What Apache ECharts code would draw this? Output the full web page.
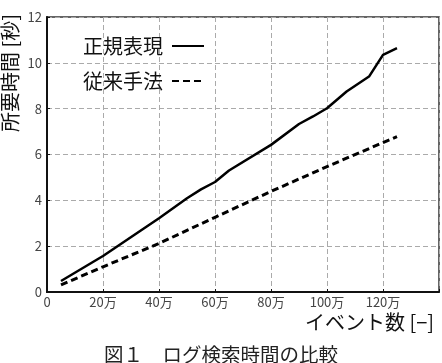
<!DOCTYPE html>
<html>
<head>
<meta charset="utf-8">
<script src="https://cdn.jsdelivr.net/npm/echarts@6/dist/echarts.min.js"></script>
<style>
html,body{margin:0;padding:0;background:#fff;}
#c{width:442px;height:363px;}
</style>
</head>
<body>
<div id="c"></div>
<script>
// X values in units of 万 (10,000 events)
const regexEvents = [5, 20, 40, 50, 55, 60, 65, 80, 90, 95, 100, 107, 115, 120, 125];
const regexTimes  = [0.48, 1.57, 3.22, 4.09, 4.48, 4.8, 5.3, 6.42, 7.33, 7.66, 8.02, 8.75, 9.4, 10.35, 10.64];
const legacyEvents = [5, 20, 40, 60, 80, 100, 120, 125];
const legacyTimes  = [0.31, 1.1, 2.12, 3.26, 4.39, 5.47, 6.52, 6.78];
const seriesNames = ['正規表現', '従来手法'];
const xAxisName = 'イベント数 [−]';
const yAxisName = '所要時間 [秒]';
const caption = '図１　ログ検索時間の比較';

const FONT = '"Noto Sans CJK JP", "Noto Sans", sans-serif';
const chart = echarts.init(document.getElementById('c'), null, {renderer: 'canvas'});
const zip = (xs, ys) => xs.map((x, i) => [x, ys[i]]);

chart.setOption({
  animation: false,
  backgroundColor: '#fff',
  textStyle: {fontFamily: FONT},
  title: {
    text: caption,
    left: 'center',
    top: 340,
    textStyle: {fontSize: 19.5, fontWeight: 'normal', color: '#222', fontFamily: FONT}
  },
  grid: {
    left: 46, right: 3, top: 17, bottom: 71,
    show: true, borderColor: '#333', borderWidth: 1.5
  },
  legend: {
    orient: 'vertical',
    left: 78, top: 31,
    align: 'right',
    itemWidth: 32, itemHeight: 14, itemGap: 15,
    itemStyle: {opacity: 0},
    textStyle: {fontSize: 20, color: '#111', fontFamily: FONT, padding: [0, 4, 0, 0]},
    data: seriesNames
  },
  xAxis: {
    type: 'value', min: 0, max: 140, interval: 20,
    name: xAxisName,
    nameLocation: 'end',
    nameGap: -5,
    nameTextStyle: {fontSize: 20, color: '#111', align: 'right', verticalAlign: 'top', padding: [20, 0, 0, 0], fontFamily: FONT},
    axisLine: {show: true, lineStyle: {color: '#111', width: 2}},
    axisTick: {show: true, inside: true, length: 3, lineStyle: {color: '#111'}},
    axisLabel: {
      fontSize: 13, color: '#444', margin: 4, fontFamily: FONT,
      formatter: v => v === 0 ? '0' : (v >= 140 ? '' : v + '万')
    },
    splitLine: {show: true, lineStyle: {color: '#aaa', type: [5, 3], width: 1}}
  },
  yAxis: {
    type: 'value', min: 0, max: 12, interval: 2,
    name: yAxisName,
    nameLocation: 'end',
    nameRotate: 90,
    nameGap: 3,
    nameTextStyle: {fontSize: 20, color: '#111', align: 'right', verticalAlign: 'bottom', padding: [0, 0, 27, 0], fontFamily: FONT},
    axisLine: {show: true, lineStyle: {color: '#111', width: 2}},
    axisTick: {show: true, inside: true, length: 3, lineStyle: {color: '#111'}},
    axisLabel: {fontSize: 13, color: '#444', margin: 5, fontFamily: FONT},
    splitLine: {show: true, lineStyle: {color: '#aaa', type: [5, 3], width: 1}}
  },
  series: [
    {
      name: seriesNames[0], type: 'line', symbol: 'none',
      data: zip(regexEvents, regexTimes),
      lineStyle: {color: '#000', width: 2.5, type: 'solid'},
      itemStyle: {color: '#000'}
    },
    {
      name: seriesNames[1], type: 'line', symbol: 'none',
      data: zip(legacyEvents, legacyTimes),
      lineStyle: {color: '#000', width: 3, type: [7, 4]},
      itemStyle: {color: '#000'}
    }
  ]
});
</script>
</body>
</html>
